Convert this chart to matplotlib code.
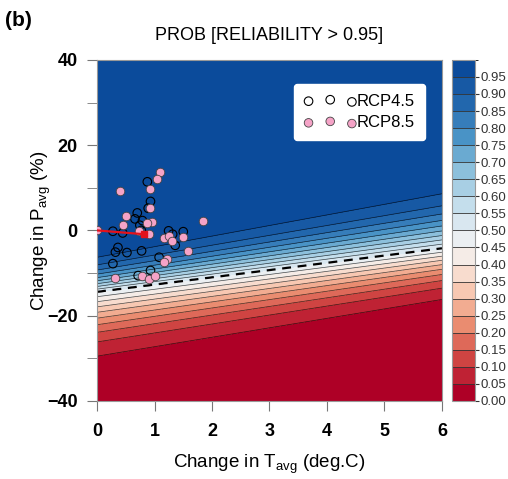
import math

import numpy as np
import matplotlib
matplotlib.use("Agg")
from matplotlib import pyplot as plt
from matplotlib.colors import LinearSegmentedColormap, BoundaryNorm

plt.rcParams['font.family'] = ['Liberation Sans', 'DejaVu Sans']

# contour positions (Change in P, %) read at the two edges T = 0 and T = 6
t_edge = [0.0, 6.0]
p_q05 = [-29.5, -16.2]
p_q50 = [-14.4, -4.2]
p_q95 = [-6.3, 8.6]

# GCM points (Change in T, Change in P)
rcp45_t = [0.875, 0.93, 0.89, 0.70, 0.66, 0.79, 0.745, 0.276, 0.446, 1.245, 1.50,
           1.315, 1.36, 0.364, 0.32, 0.52, 0.775, 1.08, 0.276, 0.93, 0.715, 0.77]
rcp45_p = [11.4, 6.8, 5.2, 4.1, 2.7, 2.3, 1.2, -0.2, -0.6, -0.1, -0.3,
           -0.9, -3.5, -4.0, -5.1, -5.2, -4.8, -6.3, -7.8, -9.4, -10.6, 0.0]
rcp85_t = [1.10, 1.05, 0.93, 0.40, 0.93, 0.51, 0.458, 0.96, 0.875, 1.836, 0.0, 0.73,
           0.91, 1.157, 1.25, 1.30, 1.49, 1.585, 1.225, 1.17, 0.317, 0.787, 0.91, 1.0]
rcp85_p = [13.6, 12.1, 9.6, 9.2, 5.3, 3.3, 1.3, 2.0, 1.7, 2.1, 0.0, -0.2,
           -0.85, -1.9, -1.3, -2.4, -1.6, -4.8, -6.8, -7.3, -11.2, -10.8, -11.3, -10.7]

# red shift line (historical -> mean projection)
shift_t = [0.0, 0.82]
shift_p = [0.0, -0.9]

levels = np.round(np.arange(0, 1.0001, 0.05), 2)


def prob_field(T, P):
    p05 = np.interp(T, t_edge, p_q05)
    p50 = np.interp(T, t_edge, p_q50)
    p95 = np.interp(T, t_edge, p_q95)
    s = np.where(P >= p50, (p95 - p50) / 1.645, (p50 - p05) / 1.645)
    z = (P - p50) / s
    erf = np.vectorize(math.erf)
    return 0.5 * (1 + erf(z / math.sqrt(2)))


tt = np.linspace(0, 6, 241)
pp = np.linspace(-40, 40, 401)
T, P = np.meshgrid(tt, pp)
Z = np.clip(prob_field(T, P), 0, 0.99999)

cmap = LinearSegmentedColormap.from_list(
    'rb', ['#AE0026', '#D24A45', '#EE9676', '#FAD3BF', '#F3F3F3',
           '#CFE3EF', '#96C6DF', '#4D98C8', '#2368AE', '#0B4B9B'])
norm = BoundaryNorm(levels, cmap.N)

fig = plt.figure(figsize=(5.08, 4.79), dpi=100)
ax = fig.add_axes([0.191, 0.163, 0.679, 0.712])
cax = fig.add_axes([0.890, 0.163, 0.045, 0.712])

cf = ax.contourf(T, P, Z, levels=levels, cmap=cmap, norm=norm)
line_lv = [l for l in levels[1:-1] if abs(l - 0.5) > 1e-6]
ax.contour(T, P, Z, levels=line_lv, colors='k', linewidths=0.5, alpha=0.7)
ax.contour(T, P, Z, levels=[0.5], colors='k', linewidths=1.6, linestyles=[(0, (4, 3))])

ax.scatter(rcp45_t, rcp45_p, s=38, facecolors='none', edgecolors='black',
           linewidths=0.8, zorder=3, label='RCP4.5')
ax.scatter(rcp85_t, rcp85_p, s=38, facecolors='#F5A3C7', edgecolors='#444444',
           linewidths=0.6, zorder=4, label='RCP8.5')
ax.plot(shift_t, shift_p, color='#E3121B', lw=1.6, marker='s', ms=4.5,
        markevery=[1], zorder=5)

ax.set_xlim(0, 6)
ax.set_ylim(-40, 40)
ax.set_xticks(range(0, 7))
ax.set_yticks([-40, -20, 0, 20, 40])
ax.set_yticks([-30, -10, 10, 30], minor=True)
ax.tick_params(axis='both', which='both', direction='out', length=7,
               color='#777777', labelsize=13)
ax.tick_params(axis='x', pad=9)
ax.tick_params(axis='y', pad=7)
for lab in ax.get_xticklabels() + ax.get_yticklabels():
    lab.set_fontweight('bold')
for sp in ax.spines.values():
    sp.set_color('#999999')
    sp.set_linewidth(0.8)

ax.set_xlabel('Change in T$_{\\mathregular{avg}}$ (deg.C)', fontsize=13.5, labelpad=9)
ax.set_ylabel('Change in P$_{\\mathregular{avg}}$ (%)', fontsize=13.5, labelpad=-4)
ax.set_title('PROB [RELIABILITY > 0.95]', fontsize=13, pad=14)
fig.text(0.01, 0.945, '(b)', fontsize=15, fontweight='bold')

leg = ax.legend(loc='upper right', bbox_to_anchor=(0.975, 0.955), scatterpoints=3,
                fontsize=12, handletextpad=0.0, borderpad=0.6, labelspacing=0.4,
                fancybox=True, framealpha=1, edgecolor='white', handlelength=3.2,
                markerscale=1.0)

cb = fig.colorbar(cf, cax=cax, ticks=levels[:-1], drawedges=True)
cb.ax.set_yticklabels(['%.2f' % l for l in levels[:-1]])
cb.ax.tick_params(labelsize=9.5, length=3, colors='#333333', pad=1)
cb.outline.set_edgecolor('#999999')
cb.dividers.set_color('#333333')
cb.dividers.set_linewidth(0.6)

fig.savefig('out.png', dpi=100)
